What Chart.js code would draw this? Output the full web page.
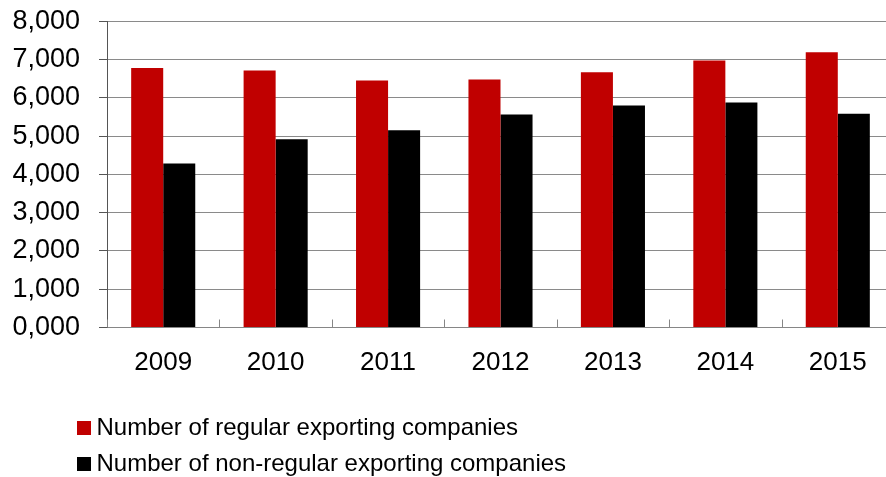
<!DOCTYPE html>
<html>
<head>
<meta charset="utf-8">
<script src="https://cdn.jsdelivr.net/npm/chart.js@4/dist/chart.umd.min.js"></script>
<style>
  html, body { margin: 0; padding: 0; background: #fff; overflow: hidden; width: 886px; height: 477px; }
  #wrap { position: absolute; left: 0; top: -14px; width: 894px; height: 500px; }
</style>
</head>
<body>
<div id="wrap"><canvas id="c"></canvas></div>
<script>
const categories = ['2009', '2010', '2011', '2012', '2013', '2014', '2015'];
const regularExporters = [6775, 6710, 6450, 6480, 6665, 6975, 7190];
const nonRegularExporters = [4285, 4920, 5150, 5560, 5795, 5875, 5585];
const yTickLabels = ['0,000', '1,000', '2,000', '3,000', '4,000', '5,000', '6,000', '7,000', '8,000'];
const seriesNames = ['Number of regular exporting companies', 'Number of non-regular exporting companies'];

const FONT = "'Liberation Sans', Arial, sans-serif";

const upTicks = {
  id: 'upTicks',
  afterDatasetsDraw(chart) {
    const xs = chart.scales.x;
    const ctx = chart.ctx;
    const n = categories.length;
    const step = (xs.right - xs.left) / n;
    ctx.save();
    ctx.strokeStyle = '#868686';
    ctx.lineWidth = 1;
    ctx.beginPath();
    for (let i = 0; i <= n; i++) {
      const x = Math.round(xs.getPixelForValue(i) - step / 2) + 0.5;
      ctx.moveTo(x, xs.top);
      ctx.lineTo(x, xs.top - 8);
    }
    ctx.stroke();
    ctx.restore();
  }
};

const legendShift = {
  id: 'legendShift',
  afterLayout(chart) {
    if (chart.legend) chart.legend.left = 71.5;
  }
};

new Chart(document.getElementById('c'), {
  type: 'bar',
  data: {
    labels: categories,
    datasets: [
      { label: seriesNames[0], data: regularExporters, backgroundColor: '#C00000', borderWidth: 0 },
      { label: seriesNames[1], data: nonRegularExporters, backgroundColor: '#000000', borderWidth: 0 }
    ]
  },
  options: {
    responsive: true,
    maintainAspectRatio: false,
    animation: false,
    devicePixelRatio: 1,
    layout: { padding: { left: 0, right: 0, top: 8, bottom: 0 } },
    datasets: { bar: { categoryPercentage: 0.57, barPercentage: 1.0 } },
    plugins: {
      tooltip: { enabled: false },
      legend: {
        position: 'bottom',
        align: 'start',
        labels: {
          font: { family: FONT, size: 24 },
          color: '#000',
          usePointStyle: true,
          pointStyle: 'rect',
          boxWidth: 1,
          boxHeight: 14,
          padding: 12
        }
      }
    },
    scales: {
      x: {
        afterFit(s) { s.height = 76.5; },
        grid: { display: false, drawTicks: false },
        border: { display: true, color: '#868686', width: 1 },
        ticks: { font: { family: FONT, size: 26 }, color: '#000', padding: 20, maxRotation: 0 }
      },
      y: {
        min: 0,
        max: 8000,
        afterFit(s) { s.width = 107; },
        grid: { color: '#8a8a8a', lineWidth: 1, tickLength: 8, tickColor: '#555' },
        border: { display: true, color: '#555', width: 1 },
        ticks: {
          stepSize: 1000,
          font: { family: FONT, size: 27 },
          color: '#000',
          padding: 19,
          callback: (v, i) => yTickLabels[i]
        }
      }
    }
  },
  plugins: [upTicks, legendShift]
});
</script>
</body>
</html>
